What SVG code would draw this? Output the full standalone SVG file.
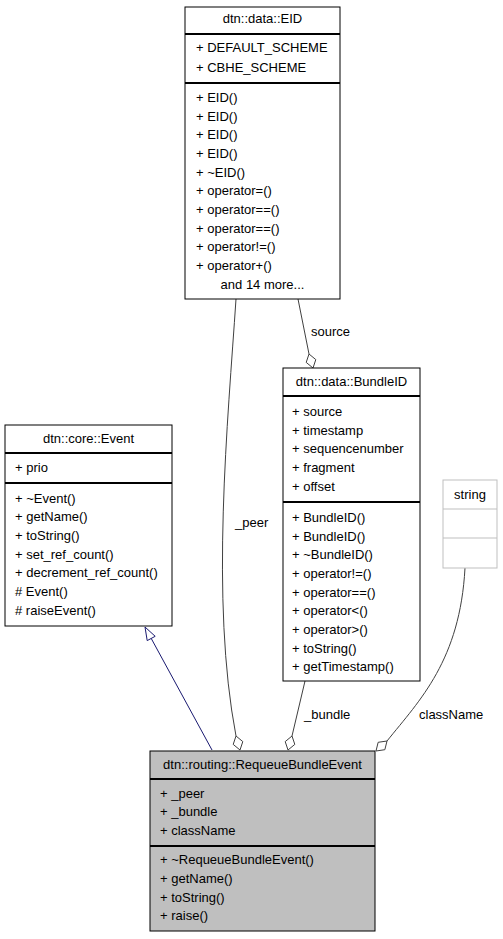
<svg xmlns="http://www.w3.org/2000/svg" width="503" height="939" viewBox="0 0 503 939">
<style>
text{font-family:"Liberation Sans",Arial,Helvetica,sans-serif;font-size:13px;fill:#000}
.c{text-anchor:middle}
.box{fill:#fff;stroke:#000;stroke-width:1}
.sep{stroke:#000;stroke-width:2}
.edge{fill:none;stroke:#404040;stroke-width:1}
.dia{fill:#fff;stroke:#404040;stroke-width:1}
.inh{fill:none;stroke:#191970;stroke-width:1}
.tri{fill:#fff;stroke:#191970;stroke-width:1}
</style>
<rect width="503" height="939" fill="#fff"/>
<g id="connectors">
<path class="inh" d="M212,750 L151.2,638.4"/>
<polygon class="tri" points="145,627 155.2,636.3 147.2,640.6"/>
<path class="edge" d="M236,299 C228,420 210,600 236,736"/>
<polygon class="dia" points="240,750 233.2,744.4 236,736 242.8,741.6"/>
<text x="235" y="527">_peer</text>
<path class="edge" d="M298,299 L309,354"/>
<polygon class="dia" points="313,368 306.2,362.4 309,354 315.8,359.6"/>
<text x="311" y="336">source</text>
<path class="edge" d="M305,681 L292,736"/>
<polygon class="dia" points="288,750 294.8,744.4 292,736 285.2,741.6"/>
<text x="304" y="719">_bundle</text>
<path class="edge" d="M465,568 C460,660 420,700 387,741"/>
<polygon class="dia" points="376,751 384.85,749.7 387,741 378.15,742.3"/>
<text x="419" y="719">className</text>
</g>
<g id="eid">
<rect class="box" x="185" y="7" width="155" height="292"/>
<line class="sep" x1="185" y1="34" x2="340" y2="34"/>
<line class="sep" x1="185" y1="83" x2="340" y2="83"/>
<text class="c" x="262.5" y="23">dtn::data::EID</text>
<text x="196" y="52">+ DEFAULT_SCHEME</text>
<text x="196" y="72">+ CBHE_SCHEME</text>
<text x="196" y="102">+ EID()</text>
<text x="196" y="121">+ EID()</text>
<text x="196" y="139">+ EID()</text>
<text x="196" y="158">+ EID()</text>
<text x="196" y="177">+ ~EID()</text>
<text x="196" y="195">+ operator=()</text>
<text x="196" y="214">+ operator==()</text>
<text x="196" y="233">+ operator==()</text>
<text x="196" y="251">+ operator!=()</text>
<text x="196" y="270">+ operator+()</text>
<text class="c" x="262.5" y="289">and 14 more...</text>
</g>
<g id="bundleid">
<rect class="box" x="283" y="368" width="137" height="313"/>
<line class="sep" x1="283" y1="396" x2="420" y2="396"/>
<line class="sep" x1="283" y1="502" x2="420" y2="502"/>
<text class="c" x="351.5" y="386">dtn::data::BundleID</text>
<text x="292" y="416">+ source</text>
<text x="292" y="435">+ timestamp</text>
<text x="292" y="453">+ sequencenumber</text>
<text x="292" y="472">+ fragment</text>
<text x="292" y="491">+ offset</text>
<text x="292" y="522">+ BundleID()</text>
<text x="292" y="541">+ BundleID()</text>
<text x="292" y="559">+ ~BundleID()</text>
<text x="292" y="578">+ operator!=()</text>
<text x="292" y="597">+ operator==()</text>
<text x="292" y="615">+ operator&lt;()</text>
<text x="292" y="634">+ operator&gt;()</text>
<text x="292" y="653">+ toString()</text>
<text x="292" y="671">+ getTimestamp()</text>
</g>
<g id="event">
<rect class="box" x="5" y="425" width="167" height="201"/>
<line class="sep" x1="5" y1="453" x2="172" y2="453"/>
<line class="sep" x1="5" y1="483" x2="172" y2="483"/>
<text class="c" x="88.5" y="443">dtn::core::Event</text>
<text x="15" y="472">+ prio</text>
<text x="15" y="503">+ ~Event()</text>
<text x="15" y="521">+ getName()</text>
<text x="15" y="540">+ toString()</text>
<text x="15" y="559">+ set_ref_count()</text>
<text x="15" y="577">+ decrement_ref_count()</text>
<text x="15" y="596"># Event()</text>
<text x="15" y="615"># raiseEvent()</text>
</g>
<g id="string">
<rect x="443" y="480" width="54" height="88" fill="#fff" stroke="#bfbfbf"/>
<line x1="443" y1="509" x2="497" y2="509" stroke="#bfbfbf"/>
<line x1="443" y1="538" x2="497" y2="538" stroke="#bfbfbf"/>
<text class="c" x="470" y="499">string</text>
</g>
<g id="requeue">
<rect x="150" y="751" width="225" height="180" fill="#bfbfbf" stroke="#000"/>
<line class="sep" x1="150" y1="779" x2="375" y2="779"/>
<line class="sep" x1="150" y1="846" x2="375" y2="846"/>
<text class="c" x="262.5" y="769">dtn::routing::RequeueBundleEvent</text>
<text x="160" y="798">+ _peer</text>
<text x="160" y="816">+ _bundle</text>
<text x="160" y="835">+ className</text>
<text x="160" y="864">+ ~RequeueBundleEvent()</text>
<text x="160" y="883">+ getName()</text>
<text x="160" y="902">+ toString()</text>
<text x="160" y="920">+ raise()</text>
</g>
</svg>
